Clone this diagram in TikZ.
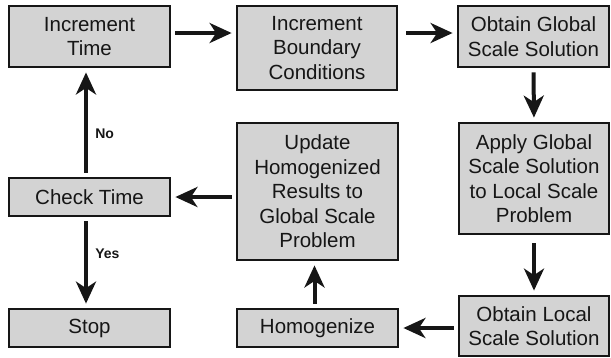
\documentclass[tikz,border=0pt]{standalone}
\usepackage{fontspec}
\setmainfont{Liberation Sans}
\usetikzlibrary{arrows.meta}
\definecolor{boxfill}{RGB}{211,211,211}
\definecolor{ink}{RGB}{22,22,22}
\begin{document}
\begin{tikzpicture}[x=1pt,y=-1pt,
  stepbox/.style={draw=ink,line width=2.8pt,fill=boxfill,inner sep=0pt,
    text=ink,align=center,font=\fontsize{20.5}{24.5}\selectfont},
  flow/.style={draw=ink,line width=4pt,
    -{Stealth[length=22pt,width=20pt,inset=6.5pt]},
    shorten <=4pt,shorten >=4pt},
  tag/.style={text=ink,font=\fontsize{14}{16}\selectfont\bfseries,anchor=west}]
\useasboundingbox (0,0) rectangle (611,357);
% boxes, positioned by centre with explicit sizes
\node[stepbox,minimum width=161pt,minimum height=61pt] (itime) at (89.5,36.5) {Increment\\Time};
\node[stepbox,minimum width=160pt,minimum height=84pt] (ibc) at (317,48) {Increment\\Boundary\\Conditions};
\node[stepbox,minimum width=151pt,minimum height=61pt] (ogs) at (533.5,36.5) {Obtain Global\\Scale Solution};
\node[stepbox,minimum width=150pt,minimum height=111pt] (apply) at (534,178.5) {Apply Global\\Scale Solution\\to Local Scale\\Problem};
\node[stepbox,minimum width=150pt,minimum height=60pt] (olocal) at (534,326) {Obtain Local\\Scale Solution};
\node[stepbox,minimum width=161pt,minimum height=137pt] (update) at (317.5,191.5) {Update\\Homogenized\\Results to\\Global Scale\\Problem};
\node[stepbox,minimum width=161pt,minimum height=38pt] (homog) at (317.5,328) {Homogenize};
\node[stepbox,minimum width=161pt,minimum height=38pt] (check) at (89.5,197) {Check Time};
\node[stepbox,minimum width=161pt,minimum height=38pt] (stop) at (89.5,328) {Stop};
% connectors
\coordinate (rowA) at (0,33);
\draw[flow] (itime.east |- rowA) -- (ibc.west |- rowA);
\draw[flow,shorten <=8pt] (ibc.east |- rowA) -- (ogs.west |- rowA);
\draw[flow] (ogs.south) -- (apply.north);
\draw[flow,shorten <=8pt] (apply.south) -- (olocal.north);
\draw[flow] (olocal.west |- homog) -- (homog.east);
\draw[flow] ([xshift=-3pt]homog.north) -- ([xshift=-3pt]update.south);
\draw[flow] (update.west |- check) -- (check.east);
\draw[flow] ([xshift=-3.5pt]check.north) -- ([xshift=-3.5pt]itime.south) node[tag,pos=0.4,right=4pt] (no) {No};
\draw[flow] ([xshift=-3.5pt]check.south) -- ([xshift=-3.5pt]stop.north) node[tag,pos=0.4,right=4pt] (yes) {Yes};
\end{tikzpicture}
\end{document}
